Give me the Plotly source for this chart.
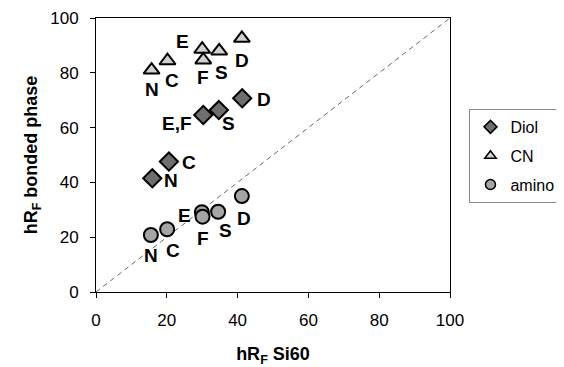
import plotly.graph_objects as go

diol_x = [15.9, 20.6, 30.3, 34.7, 41.3]
diol_y = [41.5, 47.6, 64.6, 66.4, 70.7]
diol_lab = ["N", "C", "E,F", "S", "D"]

cn_x = [15.7, 20.2, 30.0, 30.3, 34.8, 41.2]
cn_y = [81.0, 84.4, 88.6, 84.7, 88.0, 92.6]
cn_lab = ["N", "C", "E", "F", "S", "D"]

am_x = [15.5, 20.1, 29.9, 30.1, 34.5, 41.2]
am_y = [20.8, 22.9, 29.1, 27.5, 29.3, 35.0]
am_lab = ["N", "C", "E", "F", "S", "D"]

ticks = [0, 20, 40, 60, 80, 100]

# label pixel offsets (dx, dy downward positive)
diol_off = [(19, 2), (20, 1), (-26, 8), (10, 13), (22, 1)]
cn_off = [(0, 19), (4, 20), (-20, -8), (0, 18), (2, 22), (0, 22)]
am_off = [(0, 20), (6, 21), (-17, 3), (0, 22), (7, 19), (2, 22)]

series = [
    ("Diol", diol_x, diol_y, "diamond", "#6e6e6e", "a"),
    ("CN", cn_x, cn_y, "triangle-up", "#d0d0d0", "b"),
    ("amino", am_x, am_y, "circle", "#a5a5a5", "c"),
]

fig = go.Figure()
fig.add_shape(type="line", x0=0, y0=0, x1=100, y1=100, xref="x", yref="y",
              line=dict(color="#666", width=1, dash="5px,4px"), layer="below")

for name, xs, ys, sym, col, grp in series:
    fig.add_trace(go.Scatter(x=xs, y=ys, mode="markers", name=name, legendgroup=grp,
                             showlegend=False,
                             marker=dict(symbol=sym, size=14, color=col,
                                         line=dict(color="black", width=2))))
    # legend entry with the smaller legend symbol
    fig.add_trace(go.Scatter(x=[None], y=[None], mode="markers", name=name, legendgroup=grp,
                             showlegend=True,
                             marker=dict(symbol=sym, size=10, color=col,
                                         line=dict(color="black", width=1.5))))

anns = []
for xs, ys, labs, offs in [(diol_x, diol_y, diol_lab, diol_off),
                           (cn_x, cn_y, cn_lab, cn_off),
                           (am_x, am_y, am_lab, am_off)]:
    for x, y, t, (dx, dy) in zip(xs, ys, labs, offs):
        anns.append(dict(x=x, y=y, xref="x", yref="y", text="<b>%s</b>" % t,
                         showarrow=False, xshift=dx, yshift=-dy,
                         font=dict(family="Liberation Sans, Arial", size=19, color="black")))

fig.update_layout(
    width=556, height=359,
    margin=dict(l=88, r=114, t=10, b=75, autoexpand=False),
    paper_bgcolor="white", plot_bgcolor="white",
    showlegend=True,
    legend=dict(x=1.055, y=0.668, xanchor="left", yanchor="top",
                bordercolor="#888", borderwidth=1, itemsizing="trace",
                font=dict(family="Liberation Sans, Arial", size=16, color="black"),
                itemwidth=30, tracegroupgap=5),
    annotations=anns,
    font=dict(family="Liberation Sans, Arial", color="black"),
)
fig.update_xaxes(range=[0, 100], tickvals=ticks, showgrid=False, zeroline=False,
                 showline=True, linecolor="black", linewidth=1, mirror=True,
                 ticks="outside", ticklen=5, tickcolor="black", automargin=False,
                 tickfont=dict(size=17), ticklabelstandoff=8,
                 title=dict(text="<b>hR<sub>F</sub> Si60</b>", font=dict(size=18), standoff=21))
fig.update_yaxes(range=[0, 100], tickvals=ticks, showgrid=False, zeroline=False,
                 showline=True, linecolor="black", linewidth=1, mirror=True,
                 ticks="outside", ticklen=5, tickcolor="black", automargin=False,
                 tickfont=dict(size=17), ticklabelstandoff=8,
                 title=dict(text="<b>hR<sub>F</sub> bonded phase</b>", font=dict(size=18), standoff=7))

fig.write_html("out.html")
